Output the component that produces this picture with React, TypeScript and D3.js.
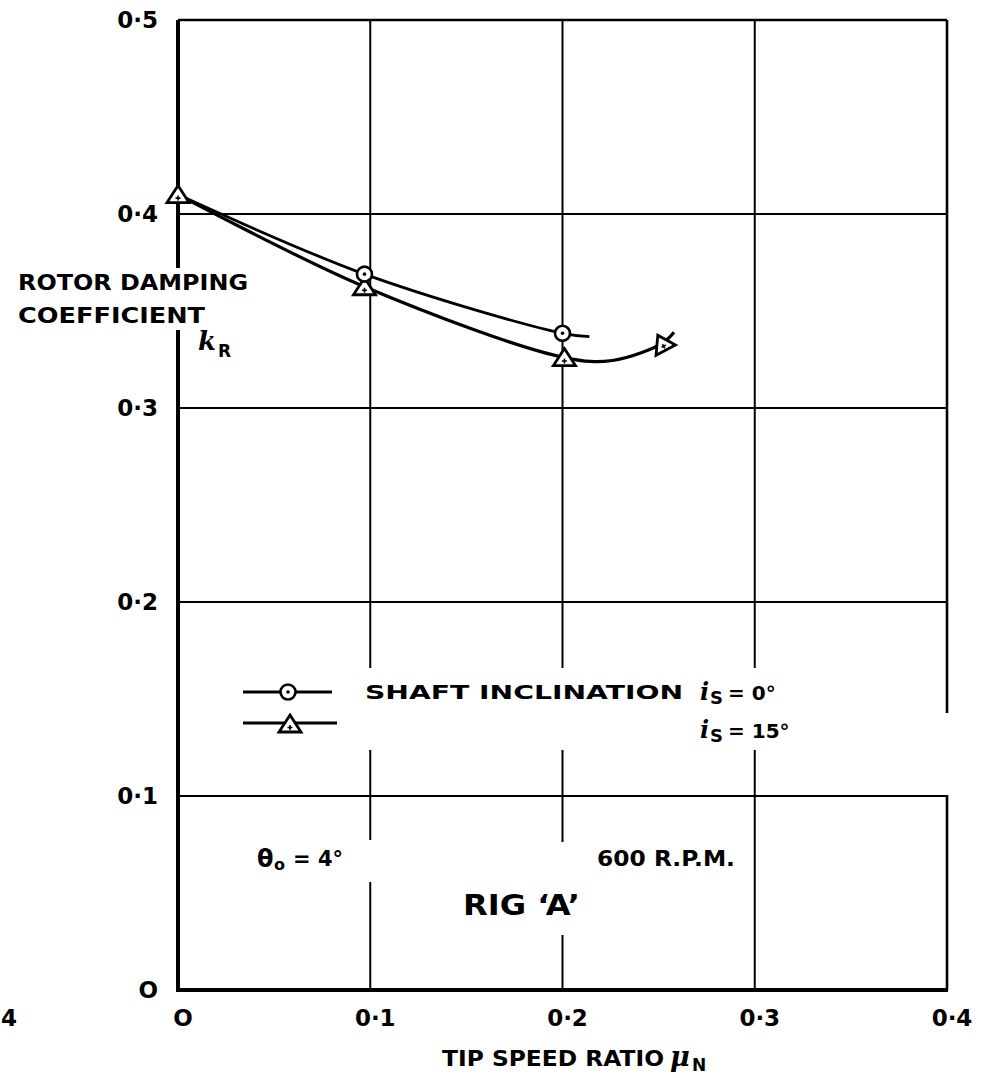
import React from 'react';
import * as d3 from 'd3';

// tip speed ratio / rotor damping coefficient
const circleCurveMu = [0, 0.097, 0.2, 0.214];
const circleCurveK = [0.41, 0.369, 0.3385, 0.3368];
const circleMu = [0.097, 0.2];
const circleK = [0.369, 0.3385];

const triCurveMu = [0, 0.097, 0.201, 0.226, 0.252, 0.258];
const triCurveK = [0.41, 0.3625, 0.326, 0.3245, 0.3335, 0.339];
const triMu = [0, 0.097, 0.201, 0.252];
const triK = [0.41, 0.3625, 0.326, 0.3335];

const xTicks = [0, 0.1, 0.2, 0.3, 0.4];
const xTickLabels = ['O', '0·1', '0·2', '0·3', '0·4'];
const yTicks = [0, 0.1, 0.2, 0.3, 0.4, 0.5];
const yTickLabels = ['O', '0·1', '0·2', '0·3', '0·4', '0·5'];

const W = 997;
const H = 1078;
const FONT = '"DejaVu Sans", sans-serif';
const SERIF = '"DejaVu Serif", serif';

const x = d3.scaleLinear().domain([0, 0.4]).range([178, 947]);
const y = d3.scaleLinear().domain([0, 0.5]).range([990, 20]);

const smooth = d3.line<[number, number]>()
    .x(d => x(d[0]))
    .y(d => y(d[1]))
    .curve(d3.curveCatmullRom.alpha(0.5));

const zip = (a: number[], b: number[]) => a.map((v, i) => [v, b[i]] as [number, number]);

function Circle({cx, cy}: {cx: number, cy: number}) {
    return (
        <g>
            <circle cx={cx} cy={cy} r={7.5} fill="#fff" stroke="#000" strokeWidth={2.6} />
            <circle cx={cx} cy={cy} r={1.8} fill="#000" />
        </g>
    );
}

function Triangle({cx, cy, rot = 0}: {cx: number, cy: number, rot?: number}) {
    return (
        <g transform={`translate(${cx},${cy}) rotate(${rot})`}>
            <path d="M0,-10 L11,7 L-11,7 Z" fill="#fff" stroke="#000" strokeWidth={2.8} strokeLinejoin="miter" />
            <path d="M0,0 V5 M-2.5,2.5 H2.5" stroke="#000" strokeWidth={1.6} />
        </g>
    );
}

export default function App() {
    const tri = zip(triMu, triK);
    const circ = zip(circleMu, circleK);
    const vGrid = xTicks.slice(1, 4);
    const hGrid = yTicks.slice(1, 5);

    return (
        <svg width={W} height={H} style={{position: 'absolute', left: 0, top: 0, background: '#fff'}}
             fontFamily={FONT} fontWeight="bold">
            <rect width={W} height={H} fill="#fff" />

            {/* grid */}
            {vGrid.map(v => (
                <line key={'v' + v} x1={x(v)} x2={x(v)} y1={y(0.5)} y2={y(0)} stroke="#000" strokeWidth={2} />
            ))}
            {hGrid.map(v => (
                <line key={'h' + v} x1={x(0)} x2={x(0.4)} y1={y(v)} y2={y(v)} stroke="#000" strokeWidth={2} />
            ))}
            <line x1={x(0)} x2={x(0.4)} y1={y(0.5)} y2={y(0.5)} stroke="#000" strokeWidth={2.6} />
            <line x1={x(0.4)} x2={x(0.4)} y1={y(0.5)} y2={y(0)} stroke="#000" strokeWidth={2.6} />
            <line x1={x(0)} x2={x(0)} y1={y(0.5)} y2={y(0) + 2} stroke="#000" strokeWidth={4} />
            <line x1={x(0) - 2} x2={x(0.4) + 1} y1={y(0)} y2={y(0)} stroke="#000" strokeWidth={4} />

            {/* erased patches behind lettering */}
            <rect x={8} y={268} width={247} height={62} fill="#fff" />
            <rect x={236} y={668} width={594} height={82} fill="#fff" />
            <rect x={938} y={713} width={18} height={82} fill="#fff" />
            <rect x={250} y={840} width={128} height={42} fill="#fff" />
            <rect x={455} y={842} width={135} height={93} fill="#fff" />

            {/* curves */}
            <path d={smooth(zip(circleCurveMu, circleCurveK)) || ''} fill="none" stroke="#000" strokeWidth={2.8} />
            <path d={smooth(zip(triCurveMu, triCurveK)) || ''} fill="none" stroke="#000" strokeWidth={3.2} />
            {tri.map((d, i) => (
                <Triangle key={'t' + i} cx={x(d[0])} cy={y(d[1]) + 1} rot={i === 3 ? -28 : 0} />
            ))}
            {circ.map((d, i) => (
                <Circle key={'c' + i} cx={x(d[0])} cy={y(d[1])} />
            ))}

            {/* tick labels */}
            {yTicks.map((v, i) => (
                <text key={'yl' + v} x={158} y={y(v)} dy="0.36em" textAnchor="end" fontSize={23}>{yTickLabels[i]}</text>
            ))}
            {xTicks.map((v, i) => (
                <text key={'xl' + v} x={x(v) + 5} y={1018} dy="0.36em" textAnchor="middle" fontSize={23}>{xTickLabels[i]}</text>
            ))}
            <text x={1} y={1018} dy="0.36em" fontSize={23}>4</text>

            {/* axis titles */}
            <text x={442} y={1066} fontSize={21} textLength={222} lengthAdjust="spacingAndGlyphs">TIP SPEED RATIO</text>
            <text x={670} y={1066} fontSize={27} fontFamily={SERIF} fontStyle="italic">μ</text>
            <text x={692} y={1071} fontSize={17}>N</text>

            <text x={18} y={290} fontSize={21} textLength={230} lengthAdjust="spacingAndGlyphs">ROTOR DAMPING</text>
            <text x={18} y={323} fontSize={21} textLength={187} lengthAdjust="spacingAndGlyphs">COEFFICIENT</text>
            <text x={198} y={350} fontSize={26} fontFamily={SERIF} fontStyle="italic">k</text>
            <text x={218} y={357} fontSize={17}>R</text>

            {/* legend */}
            <line x1={243} x2={332} y1={692} y2={692} stroke="#000" strokeWidth={2.8} />
            <Circle cx={288} cy={692} />
            <line x1={243} x2={337} y1={723} y2={723} stroke="#000" strokeWidth={2.8} />
            <Triangle cx={290} cy={725} />
            <text x={365} y={699} fontSize={20} textLength={318} lengthAdjust="spacingAndGlyphs">SHAFT INCLINATION</text>
            <text x={700} y={700} fontSize={24} fontFamily={SERIF} fontStyle="italic">i</text>
            <text x={710} y={704} fontSize={18}>S</text>
            <text x={728} y={700} fontSize={20}>= 0°</text>
            <text x={700} y={738} fontSize={24} fontFamily={SERIF} fontStyle="italic">i</text>
            <text x={710} y={742} fontSize={18}>S</text>
            <text x={728} y={738} fontSize={20}>= 15°</text>

            {/* notes */}
            <text x={257} y={867} fontSize={24}>θ</text>
            <text x={274} y={870} fontSize={16}>o</text>
            <text x={293} y={866} fontSize={21}>= 4°</text>
            <text x={597} y={866} fontSize={21} textLength={138} lengthAdjust="spacingAndGlyphs">600 R.P.M.</text>
            <text x={463} y={915} fontSize={28} textLength={117} lengthAdjust="spacingAndGlyphs">RIG ‘A’</text>
        </svg>
    );
}
